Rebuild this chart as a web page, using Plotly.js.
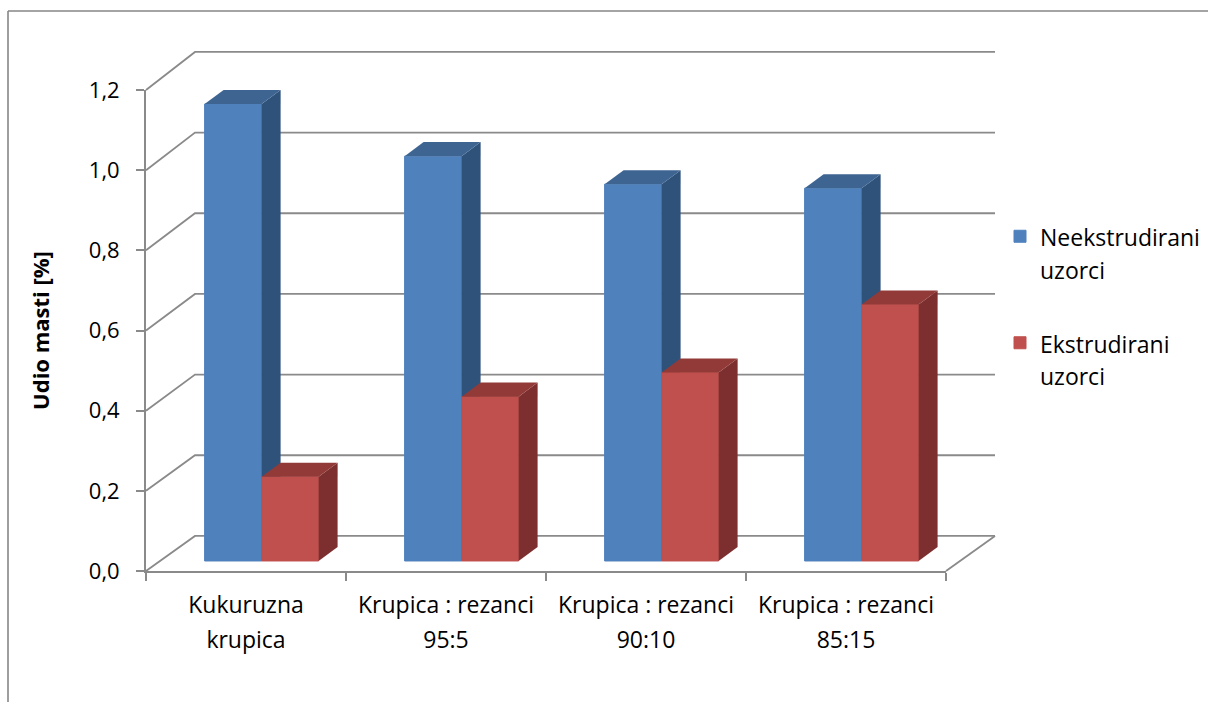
<!DOCTYPE html>
<html><head><meta charset="utf-8">
<script src="https://cdn.plot.ly/plotly-3.0.1.min.js"></script>
<style>html,body{margin:0;padding:0;background:#fff}#c{width:1208px;height:702px}</style>
</head><body><div id="c"></div>
<script>
const categories = ["Kukuruzna<br>krupica","Krupica : rezanci<br>95:5","Krupica : rezanci<br>90:10","Krupica : rezanci<br>85:15"];
const neekstrudirani = [1.14,1.01,0.94,0.93];
const ekstrudirani = [0.21,0.41,0.47,0.64];
const yTicks = [0,0.2,0.4,0.6,0.8,1.0,1.2];
const yTickText = ["0,0","0,2","0,4","0,6","0,8","1,0","1,2"];
const seriesNames = ["Neekstrudirani<br>uzorci","Ekstrudirani<br>uzorci"];

const FONT = "'Open Sans', Lato, sans-serif";
const GRID = "#8a8a8a";
const XMAX = 4, YMAX = 1.2;
// Depth projection in axis units: x-unit = 200 px, y-unit = 400 px
const wallDX = 0.245, wallDY = 0.0875, wallScale = 1.00625;
const frontDX = 0.078, frontDY = 0.025;
const barDX = 0.095, barDY = 0.035;
const barW = 0.285;
const cx = categories.map((_, i) => i + 0.5);
const sized = (s, px) => s.split("<br>").map(l => l ? `<span style="font-size:${px}px">${l}</span>` : " ").join("<br>");

const traces = [];
traces.push({type:"scatter",mode:"lines",x:[0,XMAX],y:[0,0],xaxis:"x",yaxis:"y",line:{width:0},showlegend:false,hoverinfo:"skip"});
traces.push({type:"scatter",mode:"lines",x:[0,XMAX],y:[0,0],xaxis:"x4",yaxis:"y",line:{width:0},showlegend:false,hoverinfo:"skip"});

function series(vals, xStart, name, axis, front, top, side){
  vals.forEach((v,i) => {
    const x0 = cx[i] + xStart, x1 = x0 + barW, yB = frontDY, yT = frontDY + v;
    traces.push({type:"scatter",mode:"lines",fill:"toself",fillcolor:side,line:{width:0},xaxis:axis,yaxis:"y",
      x:[x1,x1+barDX,x1+barDX,x1,x1],y:[yB,yB+barDY,yT+barDY,yT,yB],showlegend:false,hoverinfo:"skip"});
    traces.push({type:"scatter",mode:"lines",fill:"toself",fillcolor:top,line:{width:0},xaxis:axis,yaxis:"y",
      x:[x0,x0+barDX,x1+barDX,x1,x0],y:[yT,yT+barDY,yT+barDY,yT,yT],showlegend:false,hoverinfo:"skip"});
  });
  traces.push({type:"bar",name:sized("<br>"+name,23),legendgroup:name,x:cx,y:vals,base:frontDY,width:barW,offset:xStart,xaxis:axis,yaxis:"y",
    marker:{color:front,line:{width:1,color:front}},hoverinfo:"skip"});
}
series(neekstrudirani, frontDX-barW, seriesNames[0], "x2", "#4f81bd", "#3e6592", "#2f527b");
series(ekstrudirani, frontDX, seriesNames[1], "x3", "#c0504d", "#923a38", "#7c2f2e");

// Back-wall grid, drawn under every subplot; positions derive from the axis ticks
const px = x => x / XMAX, py = y => y / YMAX;
const gridLine = (xs, ys) => ({type:"path",xref:"paper",yref:"paper",layer:"below",
  path: xs.map((x,i) => (i?"L":"M")+px(x)+","+py(ys[i])).join(" "),line:{color:GRID,width:1.8}});
const back = t => t*wallScale + wallDY;
const shapes = yTicks.map(t => gridLine([0,wallDX,XMAX+wallDX],[t,back(t),back(t)]));
shapes.push(gridLine([XMAX,XMAX+wallDX],[0,back(0)]));
// Chart-area border (two visible edges), paper fractions of the 800x481 plot box
const bx = v => (v-146)/800, by = v => 1-(v-90)/481;
const border = (x0,y0,x1,y1) => ({type:"line",xref:"paper",yref:"paper",x0:bx(x0),x1:bx(x1),y0:by(y0),y1:by(y1),line:{color:"#868686",width:1.6}});
shapes.push(border(8,11,1208,11), border(8,11,8,702));

const hidden = {range:[0,XMAX],overlaying:"x",anchor:"y",visible:false,fixedrange:true};
const layout = {
  width:1208,height:702,autosize:false,showlegend:true,
  paper_bgcolor:"#fff",plot_bgcolor:"rgba(0,0,0,0)",
  font:{family:FONT,size:22,color:"#000"},
  margin:{l:146,r:262,t:90,b:131,pad:0,autoexpand:false},
  barmode:"overlay",
  xaxis:{range:[0,XMAX],tickmode:"array",tickvals:[0,1,2,3,4],ticktext:["","","","",""],ticks:"outside",ticklen:8,tickwidth:1.8,tickcolor:GRID,
    showline:true,linecolor:GRID,linewidth:1.8,showgrid:false,zeroline:false,fixedrange:true},
  xaxis2:hidden,xaxis3:hidden,
  xaxis4:{range:[0,XMAX],overlaying:"x",anchor:"y",side:"bottom",tickmode:"array",tickvals:cx,ticktext:categories.map(c=>sized(c,23)),ticks:"",
    ticklabelstandoff:14,showline:false,showgrid:false,zeroline:false,fixedrange:true,tickangle:0,tickfont:{family:FONT,size:27,color:"#000"}},
  yaxis:{range:[0,YMAX],tickmode:"array",tickvals:yTicks,ticktext:yTickText,ticks:"outside",ticklen:8,tickwidth:1.8,tickcolor:GRID,
    showline:true,linecolor:GRID,linewidth:1.8,showgrid:false,zeroline:false,fixedrange:true,ticklabelstandoff:12,
    tickfont:{family:FONT,size:22,color:"#000"},
    title:{text:"<b>Udio masti [%]</b>",font:{family:FONT,size:22,color:"#000"},standoff:33}},
  legend:{x:bx(1000),xref:"paper",xanchor:"left",y:by(181),yref:"paper",yanchor:"top",traceorder:"grouped",
    itemwidth:30,tracegroupgap:6,bgcolor:"rgba(0,0,0,0)",font:{family:FONT,size:25,color:"#000"},itemclick:false,itemdoubleclick:false},
  shapes
};
Plotly.newPlot("c",traces,layout,{displayModeBar:false});
</script></body></html>
